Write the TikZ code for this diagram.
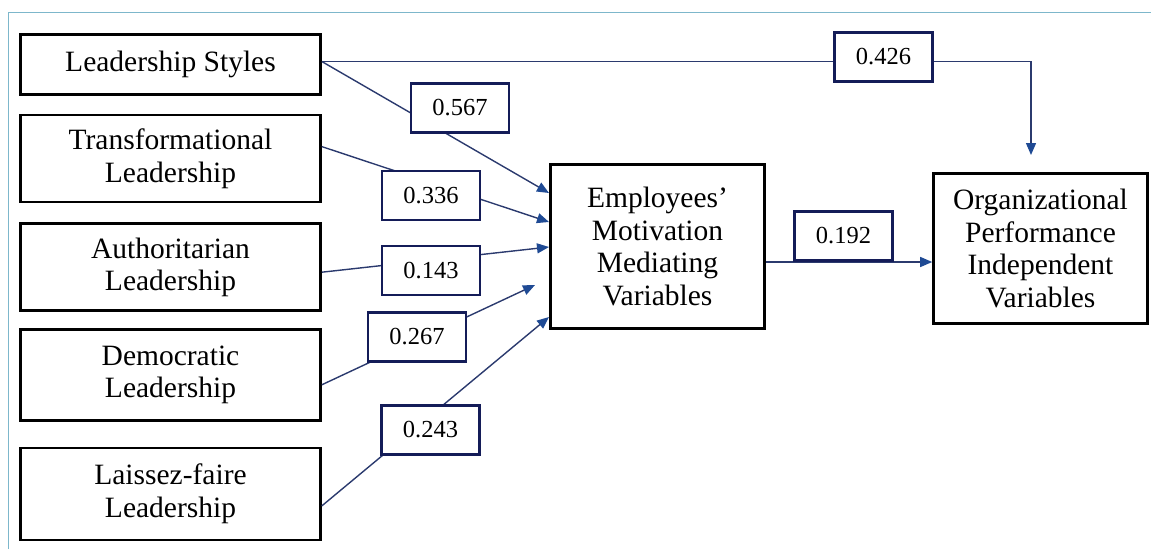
\documentclass[tikz,border=0pt]{standalone}
\usepackage{fontspec}
\setmainfont{Liberation Serif}
\usepackage{xcolor}
\usepackage{tikz}
\usetikzlibrary{positioning,arrows.meta,calc}
\definecolor{framecyan}{HTML}{7DB7CB}
\definecolor{labelnavy}{HTML}{141C58}
\definecolor{linenavy}{HTML}{2B3A6E}
\definecolor{tipblue}{HTML}{1F4A94}

\begin{document}
\begin{tikzpicture}[x=1pt,y=-1pt,
  every node/.style={font=\fontsize{29.5}{32.5}\selectfont,align=center},
  varbox/.style={draw=black,line width=2.6pt,fill=white},
  leftbox/.style={varbox,minimum width=300pt},
  coefbox/.style={draw=labelnavy,line width=2.4pt,fill=white,minimum width=98pt,minimum height=49pt,font=\fontsize{24.5}{28}\selectfont},
  path/.style={draw=linenavy,line width=1.4pt},
  arr/.style={path,-{Triangle[length=12pt,width=10pt,color=tipblue]}}]
\useasboundingbox (0,0) rectangle (1151,549);
\draw[framecyan,line width=1pt] (8,549) -- (8,12) -- (1151,12);
% independent styles
\node[leftbox,minimum height=60pt] (ls) at (170.5,64.5) {Leadership Styles};
\node[leftbox,minimum height=87pt,below=18pt of ls] (tl) {Transformational\\Leadership};
\node[leftbox,minimum height=87pt,below=19pt of tl] (al) {Authoritarian\\Leadership};
\node[leftbox,minimum height=91pt,below=16pt of al] (dl) {Democratic\\Leadership};
\node[leftbox,minimum height=92pt,below=25pt of dl] (lf) {Laissez-faire\\Leadership};
% mediator and outcome
\node[varbox,minimum width=214pt,minimum height=164pt] (emp) at (657.5,246.5) {Employees’\\Motivation\\Mediating\\Variables};
\node[varbox,minimum width=214pt,minimum height=150pt] (org) at (1040.5,248.5) {Organizational\\Performance\\Independent\\Variables};
% arrow ends
\coordinate (t567) at (549,193);
\coordinate (t336) at (549,222);
\coordinate (t143) at (549,247);
\coordinate (t267) at (535,285);
\coordinate (t243) at (549,317);
\coordinate (t426) at (1031,155);
\draw[arr] ([yshift=3pt]ls.east) -- (t567);
\draw[arr] ([yshift=12pt]tl.east) -- (t336);
\draw[arr] ([yshift=-5pt]al.east) -- (t143);
\draw[arr] ([yshift=-10pt]dl.east) -- (t267);
\draw[arr] ([yshift=-12pt]lf.east) -- (t243);
\draw[arr] ([yshift=3pt]ls.east) -| (t426);
\draw[arr] ([yshift=-15.5pt]emp.east) -- ([yshift=-15.5pt]emp.east -| org.west);
% path coefficients
\node[coefbox] (c567) at (460,108) {0.567};
\node[coefbox] (c336) at (431,195.5) {0.336};
\node[coefbox] (c143) at (431,270.5) {0.143};
\node[coefbox] (c267) at (417,337) {0.267};
\node[coefbox] (c243) at (430.5,430) {0.243};
\node[coefbox] (c426) at (883.5,57) {0.426};
\node[coefbox] (c192) at (843.5,236) {0.192};
\end{tikzpicture}
\end{document}
